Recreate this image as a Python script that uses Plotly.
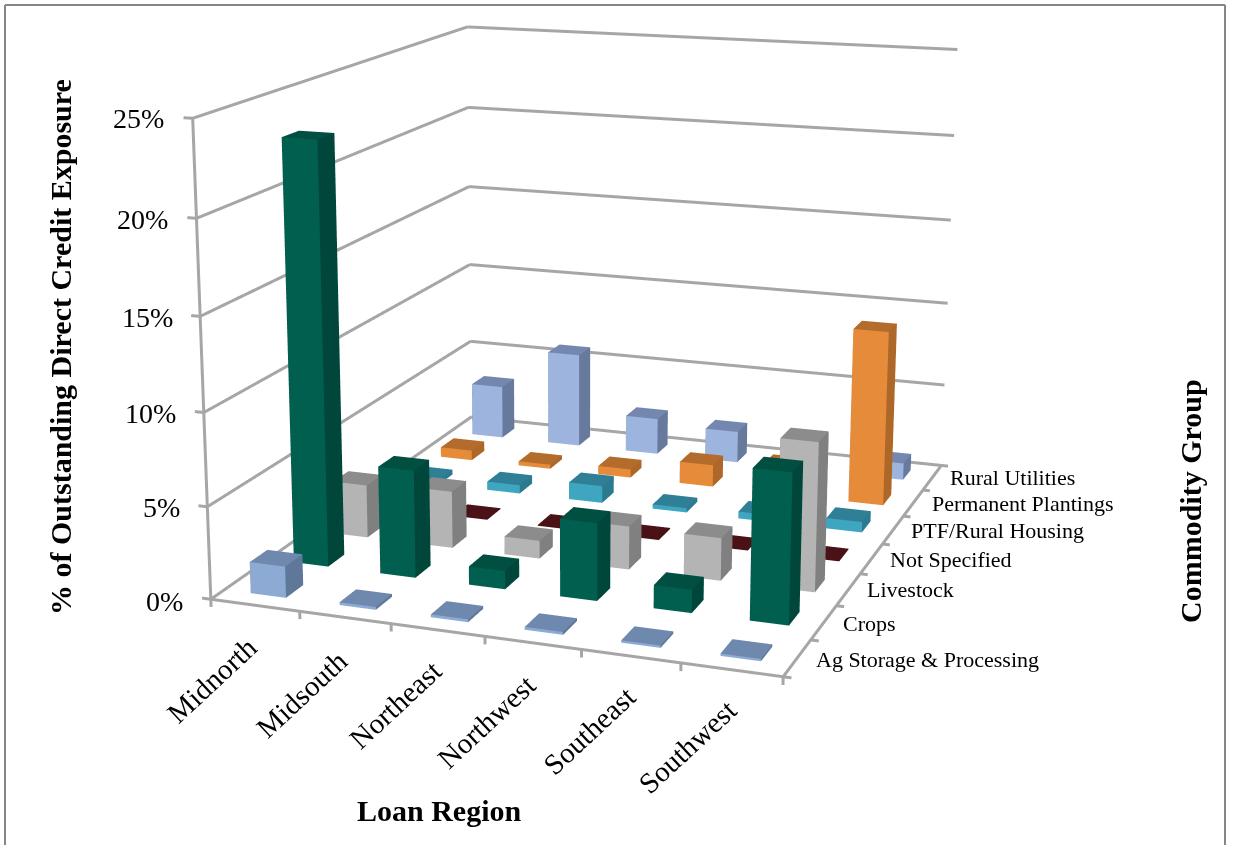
import plotly.graph_objects as go

regions = ["Midnorth", "Midsouth", "Northeast", "Northwest", "Southeast", "Southwest"]
groups = ["Ag Storage & Processing", "Crops", "Livestock", "Not Specified",
          "PTF/Rural Housing", "Permanent Plantings", "Rural Utilities"]
z_ticks = [0, 5, 10, 15, 20, 25]
z_labels = ["0%", "5%", "10%", "15%", "20%", "25%"]

ag_storage = [1.7, 0.15, 0.15, 0.15, 0.12, 0.12]
crops = [23.05, 5.9, 1.0, 4.2, 1.25, 8.0]
livestock = [3.0, 3.2, 1.0, 2.4, 2.35, 8.1]
not_specified = [0.05, 0.05, 0.05, 0.05, 0.05, 0.05]
ptf_housing = [0.3, 0.5, 1.0, 0.25, 0.4, 0.6]
perm_plantings = [0.6, 0.25, 0.5, 1.3, 1.7, 10.2]
rural_utilities = [3.25, 5.75, 2.2, 1.9, 0.3, 1.0]
series = [ag_storage, crops, livestock, not_specified, ptf_housing, perm_plantings, rural_utilities]

# front, top, side face colours per series
palette = [("#8DAAD5", "#6E88AE", "#5F7899"), ("#005F4E", "#004F41", "#00463A"),
           ("#B4B4B4", "#8C8C8C", "#808080"), ("#4A1216", "#4A1216", "#3A0E10"),
           ("#3FA6C2", "#2F7F97", "#2C7A90"), ("#E68B3A", "#B36C2C", "#AD6829"),
           ("#9DB4DF", "#7488AF", "#677A9D")]

# figure canvas is larger than the window so the scene's fixed 45 degree lens matches the reference
FIG_W, FIG_H, LEFT, TOP = 1432, 2120, -199, -713
BAR = 0.4
GRAY = "#A6A6A6"
FONT = "Liberation Serif"
N_X, N_Y, Z_MAX = len(regions), len(groups), z_ticks[-1]
PAD_X, PAD_Y, PAD_Z = 0.2, 0.3, 0.5


def px(x, y):
    return (x - LEFT) / FIG_W, 1 - (y - TOP) / FIG_H


fig = go.Figure()
for s, (values, cols) in enumerate(zip(series, palette)):
    xs, ys, zs, i, j, k, fc = [], [], [], [], [], [], []
    for r, v in enumerate(values):
        x0, x1 = r + 0.5 - BAR / 2, r + 0.5 + BAR / 2
        y0, y1 = s + 0.5 - BAR / 2, s + 0.5 + BAR / 2
        b = len(xs)
        for zz in (0, v):
            xs += [x0, x1, x1, x0]
            ys += [y0, y0, y1, y1]
            zs += [zz] * 4
        quads = [((0, 1, 5, 4), 0), ((3, 2, 6, 7), 0), ((4, 5, 6, 7), 1), ((0, 1, 2, 3), 1),
                 ((1, 2, 6, 5), 2), ((0, 3, 7, 4), 2)]
        for (a, c, d, e), col in quads:
            i += [b + a, b + a]
            j += [b + c, b + d]
            k += [b + d, b + e]
            fc += [cols[col], cols[col]]
    fig.add_trace(go.Mesh3d(x=xs, y=ys, z=zs, i=i, j=j, k=k, facecolor=fc, flatshading=True,
                            lighting=dict(ambient=1, diffuse=0, specular=0, roughness=1, fresnel=0),
                            hoverinfo="skip", name=groups[s], showscale=False))

# wall grid, axis lines and tick marks, all taken from the axis tick positions
lx, ly, lz = [], [], []


def seg(a, b):
    lx.extend([a[0], b[0], None])
    ly.extend([a[1], b[1], None])
    lz.extend([a[2], b[2], None])


for z in z_ticks:
    seg((0, 0, z), (0, N_Y, z))
    seg((0, N_Y, z), (N_X, N_Y, z))
    seg((0, 0, z), (-0.1, 0, z))
seg((0, 0, 0), (0, 0, Z_MAX))
seg((0, 0, 0), (N_X, 0, 0))
seg((N_X, 0, 0), (N_X, N_Y, 0))
for t in range(N_X + 1):
    seg((t, 0, 0), (t, 0, -0.42))
for t in range(N_Y + 1):
    seg((N_X, t, 0), (N_X + 0.08, t, 0))
fig.add_trace(go.Scatter3d(x=lx, y=ly, z=lz, mode="lines", line=dict(color=GRAY, width=6),
                           hoverinfo="skip", connectgaps=False, name="grid"))


def axis(rng):
    return dict(range=rng, autorange=False, visible=False, showspikes=False)


annotations = []


def label(text, x, y, size, angle=0, bold=False, anchor="center"):
    ax, ay = px(x, y)
    annotations.append(dict(text=f"<b>{text}</b>" if bold else text, x=ax, y=ay, xref="paper", yref="paper",
                            showarrow=False, textangle=angle, xanchor=anchor, yanchor="middle",
                            font=dict(family=FONT, size=size, color="#000000")))


for t, (x, y) in zip(regions, [(212, 680), (302, 694), (395, 705), (486, 722), (589, 731), (687, 747)]):
    label(t, x, y, 29, angle=-43)
for t, (x, y) in zip(groups, [(814, 659), (841, 623), (865, 589), (888, 559), (909, 530), (930, 503), (948, 477)]):
    label(t, x, y, 22, anchor="left")
for t, (x, y) in zip(z_labels, [(185, 601), (182, 507), (178, 413), (175, 317), (170, 219), (166, 118)]):
    label(t, x, y, 28, anchor="right")
label("% of Outstanding Direct Credit Exposure", 60, 347, 30, angle=-90, bold=True)
label("Loan Region", 439, 810, 30, bold=True)
label("Commodity Group", 1190, 501, 30, angle=-90, bold=True)

shapes = []
for (x0, y0), (x1, y1) in [((5, 5), (1225, 5)), ((5, 5), (5, 845)), ((1225, 5), (1225, 845))]:
    a, b = px(x0, y0), px(x1, y1)
    shapes.append(dict(type="line", xref="paper", yref="paper", x0=a[0], y0=a[1], x1=b[0], y1=b[1],
                       line=dict(color="#868686", width=2)))

fig.update_layout(
    width=FIG_W, height=FIG_H, autosize=False, margin=dict(l=0, r=0, t=0, b=0, pad=0),
    paper_bgcolor="white", plot_bgcolor="white", showlegend=False, hovermode=False,
    annotations=annotations, shapes=shapes,
    scene=dict(
        domain=dict(x=[0, 1], y=[0, 1]), aspectmode="manual",
        aspectratio=dict(x=1.2151 * (N_X + 2 * PAD_X) / N_X, y=1.429 * (N_Y + 2 * PAD_Y) / N_Y,
                         z=(Z_MAX + 2 * PAD_Z) / Z_MAX),
        camera=dict(eye=dict(x=1.7726, y=-5.1176, z=1.3327),
                    center=dict(x=-0.2254, y=0.0527, z=-0.118),
                    up=dict(x=0.0435, y=-0.0986, z=1),
                    projection=dict(type="perspective")),
        xaxis=axis([-PAD_X, N_X + PAD_X]),
        yaxis=axis([-PAD_Y, N_Y + PAD_Y]),
        zaxis=axis([-PAD_Z, Z_MAX + PAD_Z]),
    ),
)

post = f"""var gd=document.getElementById('{{plot_id}}');
gd.style.position='absolute';gd.style.left='{LEFT}px';gd.style.top='{TOP}px';
document.documentElement.style.overflow='hidden';document.body.style.overflow='hidden';"""
fig.write_html("out.html", post_script=post)
